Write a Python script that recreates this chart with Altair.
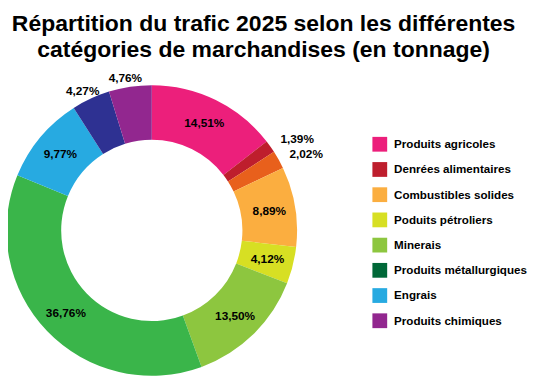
import altair as alt
import pandas as pd

# Slices, clockwise from 12 o'clock
categories = [
    "Produits agricoles",
    "Denrées alimentaires",
    "Non légendé 1",
    "Combustibles solides",
    "Poduits pétroliers",
    "Minerais",
    "Non légendé 2",
    "Engrais",
    "Non légendé 3",
    "Produits chimiques",
]
valeurs = [14.51, 1.39, 2.02, 8.89, 4.12, 13.50, 36.76, 9.77, 4.27, 4.76]
couleurs = ["#EC1F7B", "#BE1E2D", "#E8601C", "#FBAE40", "#D7DF23",
            "#8DC63F", "#3AB54A", "#27AAE1", "#2E3192", "#92278F"]

# Legend entries (as shown in the reference)
legende = [
    "Produits agricoles",
    "Denrées alimentaires",
    "Combustibles solides",
    "Poduits pétroliers",
    "Minerais",
    "Produits métallurgiques",
    "Engrais",
    "Produits chimiques",
]
couleur_metallurgie = "#006838"

# Labels written outside the ring
exterieur_droite = ["Denrées alimentaires", "Non légendé 1"]
exterieur_gauche = ["Non légendé 3", "Produits chimiques"]

df = pd.DataFrame({"categorie": categories, "valeur": valeurs})

domaine = categories + ["Produits métallurgiques"]
gamme = couleurs + [couleur_metallurgie]

CX, CY = 146, 163

base = alt.Chart(df).transform_window(
    rang="row_number()"
).transform_calculate(
    label="replace(format(datum.valeur, '.2f'), '.', ',') + '%'"
)

theta = alt.Theta("valeur:Q", stack=True)
order = alt.Order("rang:Q")

arc = base.mark_arc(innerRadius=92, outerRadius=147.5, stroke=None).encode(
    theta=theta,
    order=order,
    color=alt.Color(
        "categorie:N",
        scale=alt.Scale(domain=domaine, range=gamme),
        legend=alt.Legend(
            values=legende,
            orient="none",
            legendX=370,
            legendY=68,
            title=None,
            symbolType="square",
            symbolSize=225,
            symbolStrokeWidth=0,
            symbolOpacity=1,
            labelFont="Liberation Sans",
            labelFontSize=11.8,
            labelFontWeight="bold",
            labelColor="black",
            labelLimit=200,
            rowPadding=10.6,
            labelOffset=7,
        ),
    ),
    x=alt.value(CX),
    y=alt.value(CY),
)

def in_list(lst):
    return "indexof([" + ",".join("'" + s + "'" for s in lst) + "], datum.categorie) >= 0"

test_ext = "(" + in_list(exterieur_droite) + ") || (" + in_list(exterieur_gauche) + ")"

txt_kw = dict(fontSize=12, fontWeight="bold", font="Liberation Sans", color="black", baseline="middle")

text_in = base.mark_text(radius=121, align="center", **txt_kw).encode(
    theta=theta, order=order, detail="categorie:N",
    text=alt.condition("!(" + test_ext + ")", alt.Text("label:N"), alt.value("")),
    x=alt.value(CX), y=alt.value(CY),
)
text_right = base.mark_text(radius=160, align="left", **txt_kw).encode(
    theta=theta, order=order, detail="categorie:N",
    text=alt.condition(in_list(exterieur_droite), alt.Text("label:N"), alt.value("")),
    x=alt.value(CX), y=alt.value(CY),
)
text_left = base.mark_text(radius=160, align="center", dy=4, dx=-3, **txt_kw).encode(
    theta=theta, order=order, detail="categorie:N",
    text=alt.condition(in_list(exterieur_gauche), alt.Text("label:N"), alt.value("")),
    x=alt.value(CX), y=alt.value(CY),
)

chart = alt.layer(arc, text_in, text_right, text_left).properties(
    width=529,
    height=312,
    autosize="none",
    padding={"left": 0, "top": 60, "right": 0, "bottom": 0},
    title=alt.TitleParams(
        text=["Répartition du trafic 2025 selon les différentes",
              "catégories de marchandises (en tonnage)"],
        fontSize=23.3,
        font="Liberation Sans",
        fontWeight="bold",
        color="black",
        anchor="middle",
        lineHeight=26,
        offset=7,
        dx=-5,
    ),
).configure_view(stroke=None)

chart.save("out.html", embed_options={"renderer": "svg", "actions": False})
